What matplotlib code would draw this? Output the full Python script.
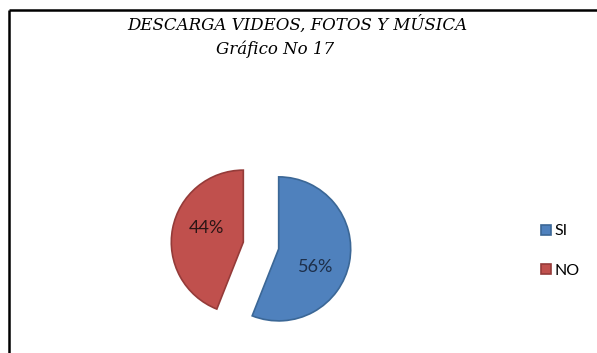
import matplotlib.pyplot as plt

labels = ['SI', 'NO']
values = [56, 44]
colors = ['#4F81BD', '#C0504D']
edges = ['#3B6796', '#953B39']

W, H = 597, 353
fig = plt.figure(figsize=(W / 100, H / 100), dpi=100)
ax = fig.add_axes([0, 0, 1, 1])

# frame lines on top and left
ax.plot([9, W], [H - 10, H - 10], color='black', lw=1.8, solid_capstyle='butt')
ax.plot([9, 9], [H - 10, 0], color='black', lw=1.8, solid_capstyle='butt')

wedges, texts, autotexts = ax.pie(
    values, colors=colors, startangle=90, counterclock=False,
    explode=[18, 18], center=(261, H - 245.5), radius=72,
    autopct='%d%%', pctdistance=0.6, frame=True,
    wedgeprops=dict(linewidth=1.2),
    textprops=dict(fontsize=13, family='Lato'))
for w, ec in zip(wedges, edges):
    w.set_edgecolor(ec)

ax.set_xlim(0, W)
ax.set_ylim(0, H)
ax.set_aspect('equal')
ax.axis('off')

autotexts[0].set_position((316, H - 267))
autotexts[0].set_color('#1d2f4a')
autotexts[1].set_position((206, H - 228))
autotexts[1].set_color('#2a1515')

ax.text(297, H - 25, 'DESCARGA VIDEOS, FOTOS Y MÚSICA', ha='center', va='center',
        fontsize=12, family='DejaVu Serif', style='italic')
ax.text(275, H - 49, 'Gráfico No 17', ha='center', va='center',
        fontsize=12, family='DejaVu Serif', style='italic')

ax.legend(wedges, labels, loc='upper left', bbox_to_anchor=(527 / W, 1 - 210 / H),
          frameon=False, handlelength=0.6, handleheight=0.6, handletextpad=0.25,
          labelspacing=1.6, prop=dict(family='Lato', size=11.5))

fig.savefig('out.png', dpi=100)
